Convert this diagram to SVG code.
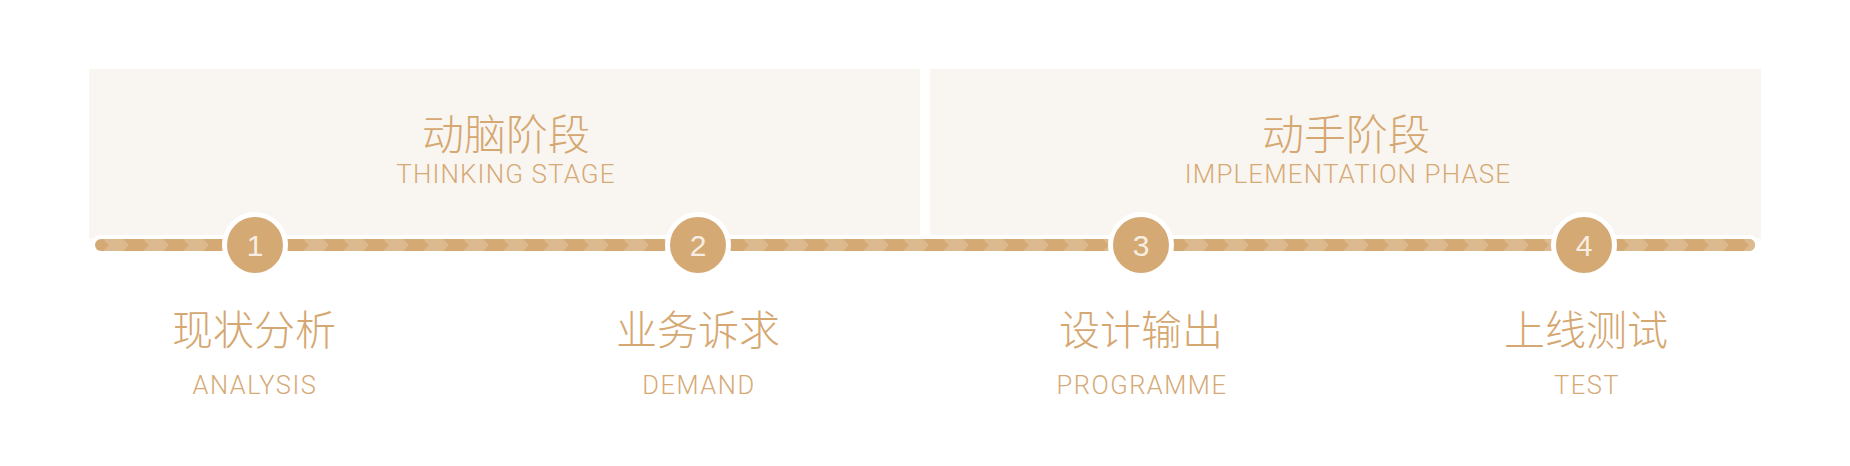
<svg xmlns="http://www.w3.org/2000/svg" width="1850" height="466" viewBox="0 0 1850 466">
  <style>
    .panel { fill: #f9f6f1; }
    .cn { font-family: "Noto Sans CJK SC", sans-serif; font-weight: 300; fill: #d5a771; text-anchor: middle; }
    .en { font-family: Roboto, "Liberation Sans", sans-serif; font-weight: 300; fill: #d6aa76; text-anchor: middle; }
    .top { font-size: 26px; letter-spacing: 1.1px; }
    .sub { font-size: 25.5px; letter-spacing: 1.5px; }
    .dot { fill: #d4a973; stroke: #ffffff; stroke-width: 5; }
    .num { font-family: "Liberation Sans", Arial, sans-serif; font-size: 30px; fill: #f7eee3; text-anchor: middle; }
  </style>
  <defs>
    <pattern id="chev" patternUnits="userSpaceOnUse" x="103" y="239" width="40" height="12">
      <polygon points="0,0 20,0 26,6 20,12 0,12 6,6" fill="#dcb98f"/>
    </pattern>
  </defs>
  <rect width="1850" height="466" fill="#ffffff"/>

  <g id="stage-thinking">
    <rect class="panel" x="89" y="69" width="831" height="170"/>
    <text class="cn" x="506" y="150" font-size="42">动脑阶段</text>
    <text class="en top" x="506" y="183">THINKING STAGE</text>
  </g>
  <g id="stage-implementation">
    <rect class="panel" x="930" y="69" width="831" height="170"/>
    <text class="cn" x="1346" y="150" font-size="42">动手阶段</text>
    <text class="en top" x="1348" y="183">IMPLEMENTATION PHASE</text>
  </g>

  <g id="connectors">
    <rect x="91" y="235" width="1668" height="20" rx="10" fill="#ffffff"/>
    <rect x="95" y="239" width="1660" height="12" rx="6" fill="#d4a973"/>
    <rect x="95" y="239" width="1660" height="12" rx="6" fill="url(#chev)"/>
  </g>

  <g id="node-1">
    <circle class="dot" cx="255" cy="245" r="30.5"/>
    <text class="num" x="255" y="256">1</text>
    <text class="cn" x="254" y="345" font-size="41">现状分析</text>
    <text class="en sub" x="255" y="394">ANALYSIS</text>
  </g>
  <g id="node-2">
    <circle class="dot" cx="698" cy="245" r="30.5"/>
    <text class="num" x="698" y="256">2</text>
    <text class="cn" x="698" y="345" font-size="41">业务诉求</text>
    <text class="en sub" x="699" y="394">DEMAND</text>
  </g>
  <g id="node-3">
    <circle class="dot" cx="1141" cy="245" r="30.5"/>
    <text class="num" x="1141" y="256">3</text>
    <text class="cn" x="1141" y="345" font-size="41">设计输出</text>
    <text class="en sub" x="1142" y="394">PROGRAMME</text>
  </g>
  <g id="node-4">
    <circle class="dot" cx="1584" cy="245" r="30.5"/>
    <text class="num" x="1584" y="256">4</text>
    <text class="cn" x="1586" y="345" font-size="41">上线测试</text>
    <text class="en sub" x="1587" y="394">TEST</text>
  </g>
</svg>
